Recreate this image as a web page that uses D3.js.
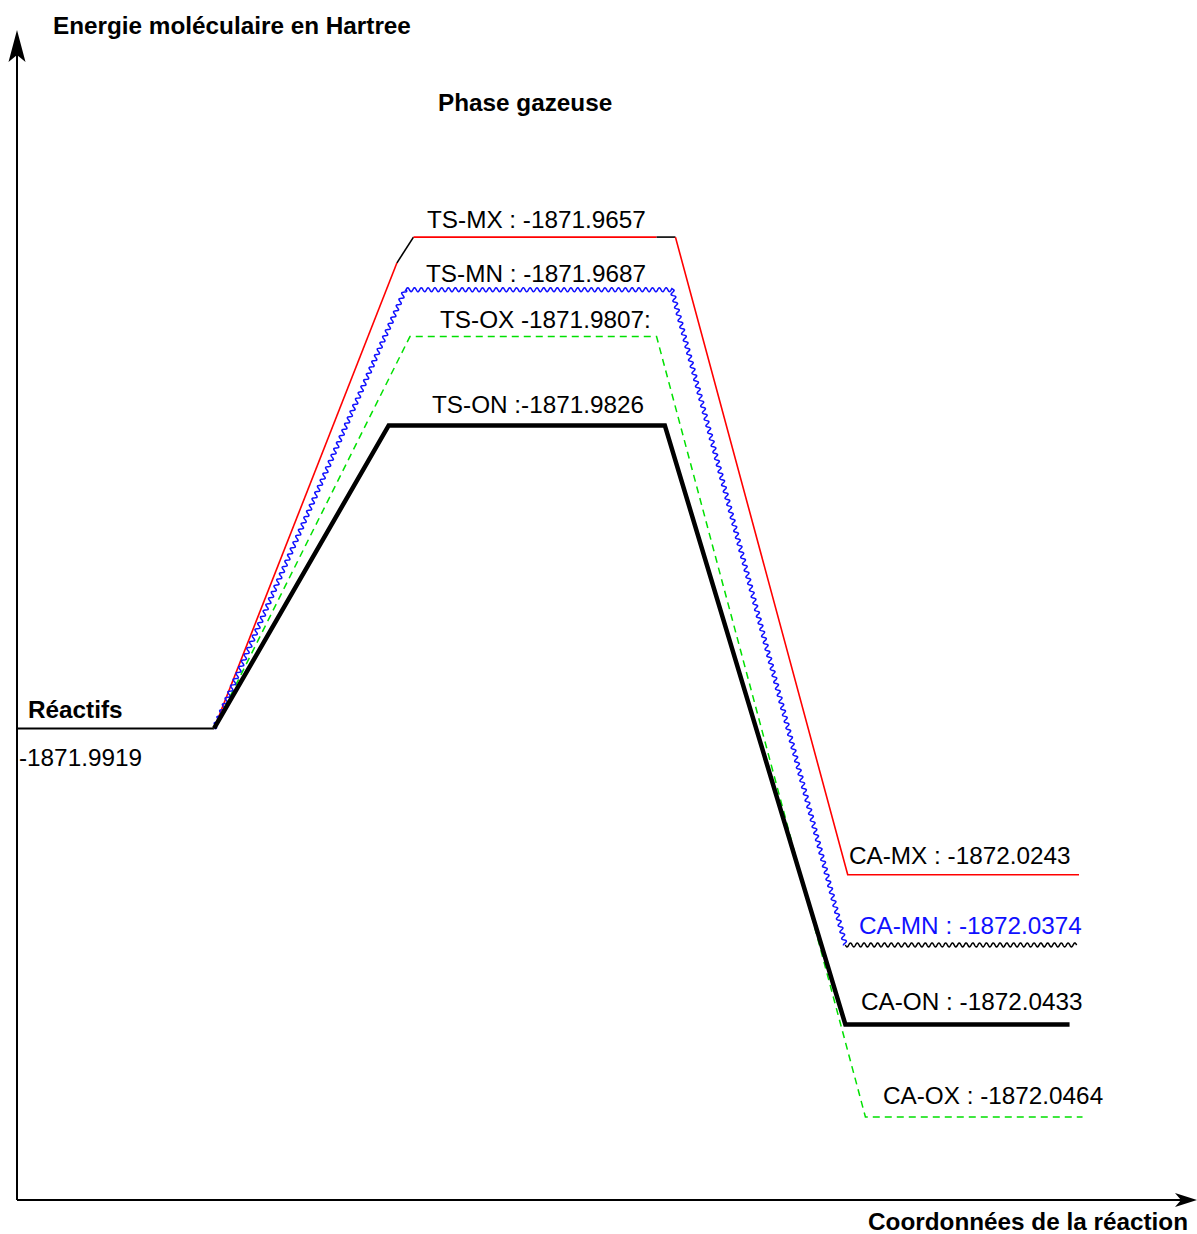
<!DOCTYPE html>
<html><head><meta charset="utf-8">
<script src="https://cdn.jsdelivr.net/npm/d3@7"></script>
<style>html,body{margin:0;padding:0;background:#fff}</style>
</head><body>
<script>
// ---- data ----
const seriesNames = ["MX", "MN", "OX", "ON"];
const reactantEnergy = -1871.9919;
const tsEnergy = [-1871.9657, -1871.9687, -1871.9807, -1871.9826];
const caEnergy = [-1872.0243, -1872.0374, -1872.0464, -1872.0433];
const tsLabels = ["TS-MX : -1871.9657", "TS-MN : -1871.9687", "TS-OX -1871.9807:", "TS-ON :-1871.9826"];
const caLabels = ["CA-MX : -1872.0243", "CA-MN : -1872.0374", "CA-OX : -1872.0464", "CA-ON : -1872.0433"];
// schematic levels (0-100 along the energy axis) as drawn in the diagram
const reactantLevel = 40.3;
const tsLevel = [82.3, 77.8, 73.8, 66.2];
const caLevel = [27.8, 21.8, 7.1, 15.0];
// reaction coordinate (0-100) of the profile breakpoints
const reactantEnd = 16.7;
const tsStart = [33.6, 32.9, 33.3, 31.5];
const tsEnd = [55.8, 55.5, 54.2, 54.9];
const caStart = [70.4, 70.2, 71.9, 70.2];
const caEnd = [90.0, 89.8, 90.3, 89.2];

// ---- layout ----
const W = 1197, H = 1234;
const x = d3.scaleLinear().domain([0, 100]).range([17, 1197]);
const y = d3.scaleLinear().domain([0, 100]).range([1200, 30]);
const svg = d3.select("body").append("svg").attr("width", W).attr("height", H)
  .style("font-family", "'Liberation Sans', Arial, sans-serif");

const styles = {
  MX: {color: "#ff0000", width: 1.6},
  MN: {color: "#1010ff", width: 1.5, wave: true},
  OX: {color: "#00e000", width: 1.5, dash: "7,5"},
  ON: {color: "#000000", width: 4.5}
};

function wavyPath(pts, wl, amp) {
  let out = [];
  let acc = 0;
  for (let i = 0; i < pts.length - 1; i++) {
    const [x0, y0] = pts[i], [x1, y1] = pts[i + 1];
    const len = Math.hypot(x1 - x0, y1 - y0);
    const nx = -(y1 - y0) / len, ny = (x1 - x0) / len;
    const steps = Math.ceil(len / 0.5);
    for (let s = (i === 0 ? 0 : 1); s <= steps; s++) {
      const t = s / steps;
      const d = acc + t * len;
      const off = amp * Math.sin(2 * Math.PI * d / wl);
      out.push([x0 + (x1 - x0) * t + nx * off, y0 + (y1 - y0) * t + ny * off]);
    }
    acc += len;
  }
  return d3.line()(out);
}

const g = svg.append("g");
// reactant level
g.append("line").attr("x1", x(0)).attr("x2", x(reactantEnd))
  .attr("y1", y(reactantLevel)).attr("y2", y(reactantLevel))
  .attr("stroke", "#000").attr("stroke-width", 2);

// draw in order so black thick is on top
const order = [0, 2, 1, 3];
order.forEach(i => {
  const name = seriesNames[i];
  const st = styles[name];
  const pts = [
    [x(reactantEnd), y(reactantLevel)],
    [x(tsStart[i]), y(tsLevel[i])],
    [x(tsEnd[i]), y(tsLevel[i])],
    [x(caStart[i]), y(caLevel[i])],
    [x(caEnd[i]), y(caLevel[i])]
  ];
  if (st.wave) {
    g.append("path").attr("d", wavyPath(pts.slice(0, 4), 6.8, 2))
      .attr("fill", "none").attr("stroke", st.color).attr("stroke-width", st.width);
    g.append("path").attr("d", wavyPath(pts.slice(3, 5), 6.8, 2))
      .attr("fill", "none").attr("stroke", "#000").attr("stroke-width", st.width);
  } else if (name === "MX") {
    // red profile with two short black pieces near the TS plateau
    const kink = [x(tsStart[i] - 1.4), y(tsLevel[i] - 2.2)];
    const blackEnd = [x(tsEnd[i] - 1.6), y(tsLevel[i])];
    const red = (a) => g.append("path").attr("d", d3.line()(a)).attr("fill", "none")
      .attr("stroke", st.color).attr("stroke-width", st.width);
    const blk = (a) => g.append("path").attr("d", d3.line()(a)).attr("fill", "none")
      .attr("stroke", "#000").attr("stroke-width", st.width);
    red([pts[0], kink]);
    blk([kink, pts[1]]);
    red([pts[1], blackEnd]);
    blk([blackEnd, pts[2]]);
    red([pts[2], pts[3], pts[4]]);
  } else {
    const p = g.append("path").attr("d", d3.line()(pts)).attr("fill", "none")
      .attr("stroke", st.color).attr("stroke-width", st.width)
      .attr("stroke-linejoin", "miter");
    if (st.dash) p.attr("stroke-dasharray", st.dash);
  }
});

// axes
svg.append("line").attr("x1", x(0)).attr("x2", x(0)).attr("y1", y(0)).attr("y2", 50)
  .attr("stroke", "#000").attr("stroke-width", 2);
svg.append("path").attr("d", `M${x(0)},30 L${x(0) - 8.5},62 L${x(0)},55 L${x(0) + 8.5},62 Z`).attr("fill", "#000");
svg.append("line").attr("x1", x(0)).attr("x2", 1185).attr("y1", y(0)).attr("y2", y(0))
  .attr("stroke", "#000").attr("stroke-width", 2);
svg.append("path").attr("d", `M1197,${y(0)} L1175,${y(0) - 7} L1181,${y(0)} L1175,${y(0) + 7} Z`).attr("fill", "#000");

// texts
const fs = 24.3;
svg.append("text").attr("x", 53).attr("y", 34).attr("font-weight", "bold").attr("font-size", fs)
  .text("Energie moléculaire en Hartree");
svg.append("text").attr("x", 438).attr("y", 111).attr("font-weight", "bold").attr("font-size", fs)
  .text("Phase gazeuse");
svg.append("text").attr("x", 28).attr("y", 718).attr("font-weight", "bold").attr("font-size", fs)
  .text("Réactifs");
svg.append("text").attr("x", 19).attr("y", 766).attr("font-size", fs)
  .text(reactantEnergy.toFixed(4));
svg.append("text").attr("x", 1188).attr("y", 1230).attr("font-weight", "bold").attr("font-size", fs)
  .attr("text-anchor", "end").text("Coordonnées de la réaction");

const tsLabelX = [427, 426, 440, 432];
const tsLabelDy = [-9, -8, -9, -12];
const caLabelX = [849, 859, 883, 861];
const caLabelDy = [-11, -11, -13, -15];
const caColors = ["#000", "#1010ff", "#000", "#000"];
seriesNames.forEach((n, i) => {
  svg.append("text").attr("x", tsLabelX[i]).attr("y", y(tsLevel[i]) + tsLabelDy[i])
    .attr("font-size", fs).text(tsLabels[i]);
  svg.append("text").attr("x", caLabelX[i]).attr("y", y(caLevel[i]) + caLabelDy[i])
    .attr("font-size", fs).attr("fill", caColors[i]).text(caLabels[i]);
});
</script>
</body></html>
